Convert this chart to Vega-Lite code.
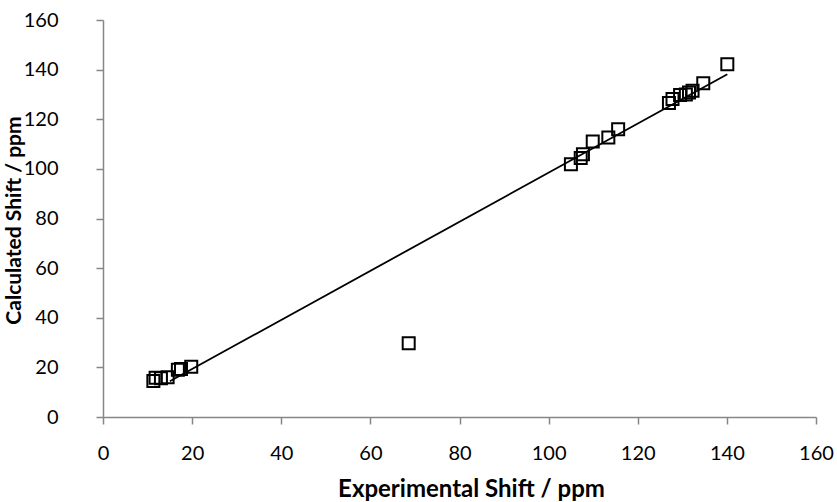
{
  "$schema": "https://vega.github.io/schema/vega-lite/v6.json",
  "width": 713,
  "height": 397,
  "autosize": "none",
  "padding": {"left": 103, "top": 20, "right": 21, "bottom": 85},
  "background": "white",
  "config": {"view": {"stroke": null}, "font": "Lato"},
  "data": {
    "values": [
      {"exp": 11.3, "calc": 14.5},
      {"exp": 11.8, "calc": 15.8},
      {"exp": 13.0, "calc": 15.6},
      {"exp": 14.5, "calc": 16.0},
      {"exp": 16.8, "calc": 19.0},
      {"exp": 17.5, "calc": 19.3},
      {"exp": 19.8, "calc": 20.3},
      {"exp": 68.6, "calc": 29.7},
      {"exp": 105.0, "calc": 101.9},
      {"exp": 107.2, "calc": 104.4},
      {"exp": 107.7, "calc": 105.9},
      {"exp": 109.9, "calc": 111.0},
      {"exp": 113.4, "calc": 112.6},
      {"exp": 115.6, "calc": 116.0},
      {"exp": 127.0, "calc": 126.5},
      {"exp": 127.8, "calc": 128.2},
      {"exp": 129.5, "calc": 129.8},
      {"exp": 130.8, "calc": 130.0},
      {"exp": 131.5, "calc": 130.8},
      {"exp": 132.3, "calc": 131.5},
      {"exp": 134.7, "calc": 134.5},
      {"exp": 140.1, "calc": 142.2}
    ]
  },
  "encoding": {
    "x": {
      "field": "exp", "type": "quantitative",
      "scale": {"domain": [0, 160], "nice": false, "zero": false},
      "axis": {
        "title": "Experimental Shift / ppm", "values": [0,20,40,60,80,100,120,140,160],
        "grid": false, "domainColor": "#868686", "tickColor": "#868686", "domainWidth": 1.5, "tickWidth": 1.5,
        "tickSize": 7, "labelPadding": 19, "labelFontSize": 20, "labelColor": "#000000", "labelFlush": false,
        "titleFontSize": 24, "titleFontWeight": "bold", "titleColor": "#000000", "titlePadding": 14, "titleX": 368
      }
    },
    "y": {
      "field": "calc", "type": "quantitative",
      "scale": {"domain": [0, 160], "nice": false, "zero": false},
      "axis": {
        "title": "Calculated Shift / ppm", "values": [0,20,40,60,80,100,120,140,160],
        "grid": false, "domainColor": "#868686", "tickColor": "#868686", "domainWidth": 1.5, "tickWidth": 1.5,
        "tickSize": 7, "labelPadding": 38, "labelFontSize": 20, "labelColor": "#000000", "labelFlush": false,
        "titleFontSize": 21, "titleFontWeight": "bold", "titleColor": "#000000",
        "titleX": -79, "titleY": 200, "titleAngle": -90, "titleAlign": "center", "titleBaseline": "bottom"
      }
    }
  },
  "layer": [
    {
      "transform": [{"regression": "calc", "on": "exp", "extent": [15, 140.1]}],
      "mark": {"type": "line", "color": "#000000", "strokeWidth": 1.8}
    },
    {
      "mark": {"type": "point", "shape": "square", "filled": false, "stroke": "#000000", "strokeWidth": 2, "size": 144, "opacity": 1}
    }
  ]
}
